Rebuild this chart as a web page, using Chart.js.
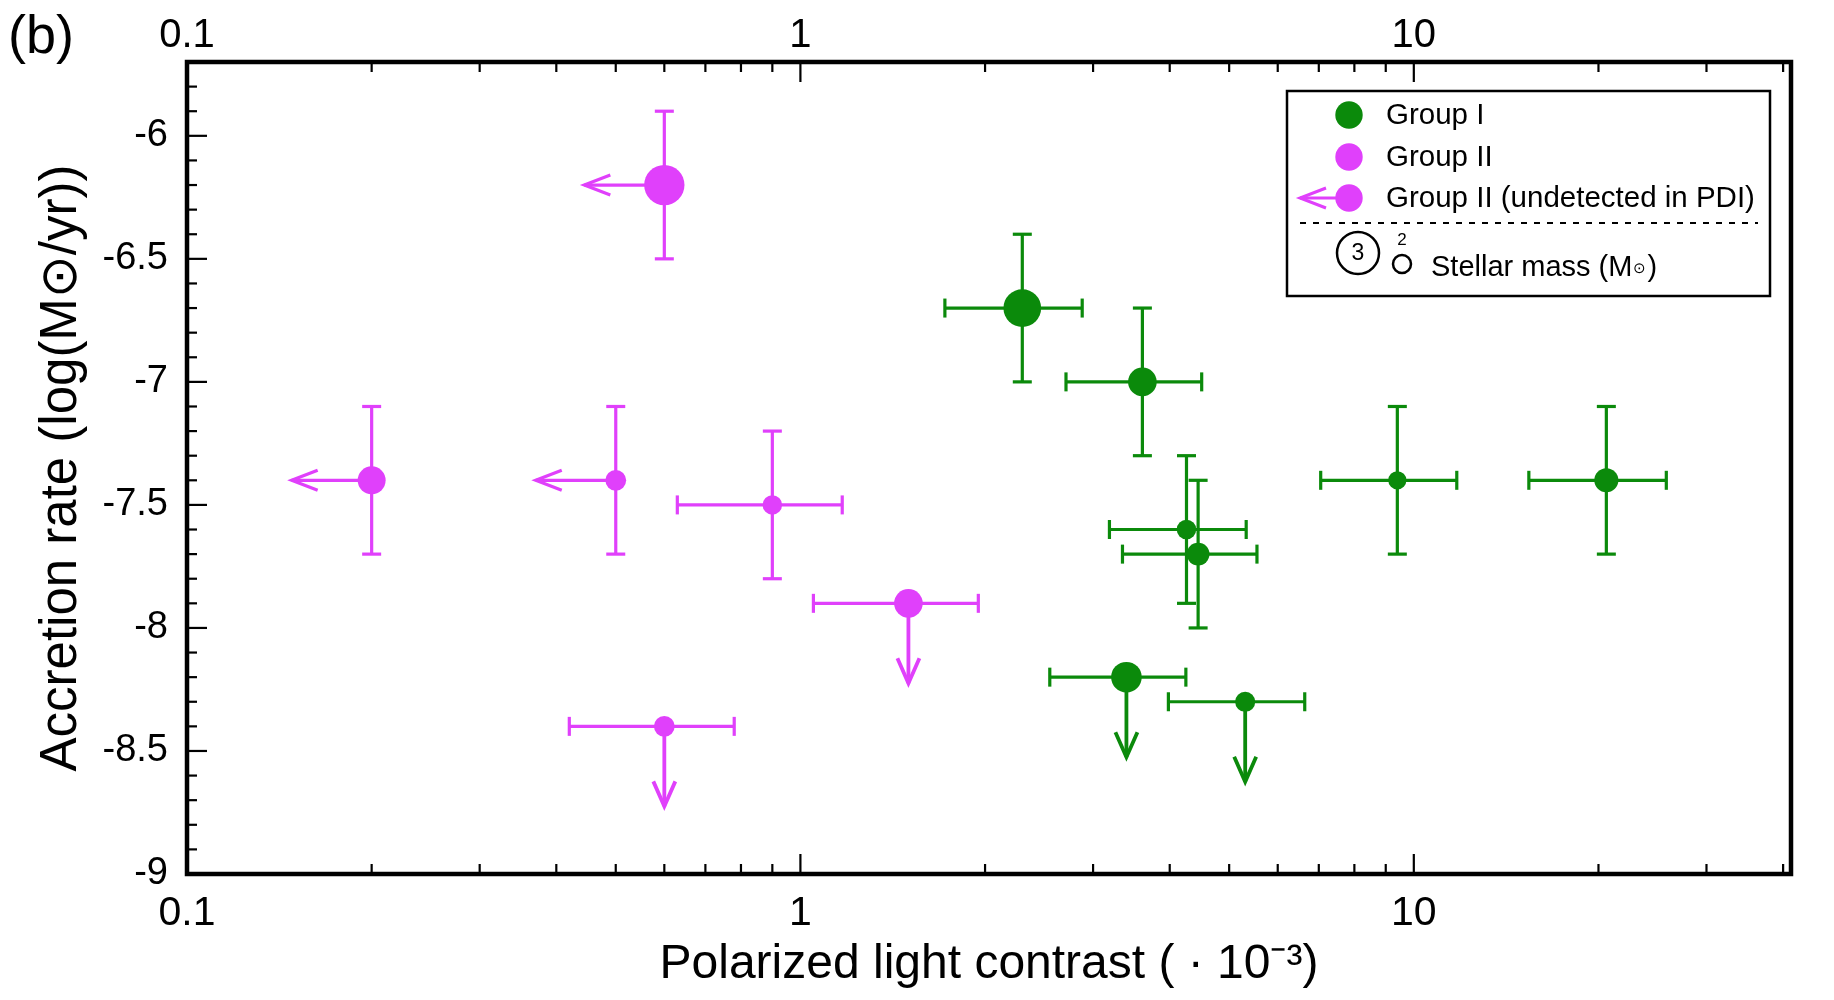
<!DOCTYPE html>
<html>
<head>
<meta charset="utf-8">
<script src="https://cdn.jsdelivr.net/npm/chart.js@4.4.1/dist/chart.umd.min.js"></script>
<style>
  html, body { margin: 0; padding: 0; background: #fff; }
  #wrap { width: 1834px; height: 1000px; position: relative; }
</style>
</head>
<body>
<div id="wrap"><canvas id="chart"></canvas></div>
<script>
// Group I (green) - polarized contrast (x 10^-3), accretion rate (log Msun/yr)
const groupIContrast    = [2.30, 3.61, 4.26, 4.45, 9.40, 20.6, 3.40, 5.31];
const groupIContrastErr = [0.58, 0.90, 1.07, 1.10, 2.35, 5.2, 0.85, 1.33];
const groupIRate        = [-6.7, -7.0, -7.6, -7.7, -7.4, -7.4, -8.2, -8.3];
const groupIRateErr     = [0.3, 0.3, 0.3, 0.3, 0.3, 0.3, 0, 0];
const groupIRateUpper   = [false, false, false, false, false, false, true, true];
const groupIMass        = [2.9, 2.2, 1.5, 1.75, 1.4, 1.85, 2.35, 1.55];

// Group II (magenta), detected in PDI
const groupIIContrast    = [0.9, 1.5, 0.6];
const groupIIContrastErr = [0.27, 0.45, 0.18];
const groupIIRate        = [-7.5, -7.9, -8.4];
const groupIIRateErr     = [0.3, 0, 0];
const groupIIRateUpper   = [false, true, true];
const groupIIMass        = [1.5, 2.2, 1.6];

// Group II undetected in PDI (contrast is an upper limit)
const undetContrast = [0.6, 0.2, 0.5];
const undetRate     = [-6.2, -7.4, -7.4];
const undetRateErr  = [0.3, 0.3, 0.3];
const undetMass     = [3.1, 2.15, 1.6];

// axes
const xMin = 0.1, xMax = 41.2;
const yMin = -9, yMax = -5.7;
const xTickValues = [0.1, 1, 10];
const xTickLabels = ['0.1', '1', '10'];
const yTickValues = [-9, -8.5, -8, -7.5, -7, -6.5, -6];
const yTickLabels = ['-9', '-8.5', '-8', '-7.5', '-7', '-6.5', '-6'];

const GREEN = '#0b8a0b';
const MAGENTA = '#e040fb';
const FONT = "'Liberation Sans', Arial, Helvetica, sans-serif";

const massToRadius = m => 6.5 * m;
const toPoints = (xs, ys) => xs.map((x, i) => ({ x: x, y: ys[i] }));

// minor tick positions on the log axis (2..9 in every decade)
const xMinorTicks = [];
for (let d = 0.1; d < xMax; d *= 10) {
    for (let k = 2; k <= 9; k++) {
        if (k * d <= xMax) xMinorTicks.push(k * d);
    }
}
const yMinorTicks = [];
for (let v = -90; v <= -57; v++) yMinorTicks.push(v / 10);

function line(ctx, x1, y1, x2, y2) {
    ctx.beginPath();
    ctx.moveTo(x1, y1);
    ctx.lineTo(x2, y2);
    ctx.stroke();
}

function arrowLeft(ctx, x, y, len) {
    const tip = x - len;
    line(ctx, x, y, tip, y);
    ctx.beginPath();
    ctx.moveTo(tip + 26, y - 10);
    ctx.lineTo(tip, y);
    ctx.lineTo(tip + 26, y + 10);
    ctx.stroke();
}

function arrowDown(ctx, x, y, len) {
    const tip = y + len;
    line(ctx, x, y, x, tip);
    ctx.beginPath();
    ctx.moveTo(x - 11, tip - 25);
    ctx.lineTo(x, tip);
    ctx.lineTo(x + 11, tip - 25);
    ctx.stroke();
}

function drawErrors(ctx, xs, ys, cx, cxErr, ry, ryErr, ryUpper, color) {
    ctx.save();
    ctx.strokeStyle = color;
    ctx.lineWidth = 3.2;
    ctx.lineCap = 'butt';
    const cap = 9.5;
    cx.forEach((x, i) => {
        const px = xs.getPixelForValue(x);
        const py = ys.getPixelForValue(ry[i]);
        if (cxErr && cxErr[i] > 0) {
            const l = xs.getPixelForValue(x - cxErr[i]);
            const r = xs.getPixelForValue(x + cxErr[i]);
            line(ctx, l, py, r, py);
            line(ctx, l, py - cap, l, py + cap);
            line(ctx, r, py - cap, r, py + cap);
        }
        if (ryErr[i] > 0) {
            const t = ys.getPixelForValue(ry[i] + ryErr[i]);
            const b = ys.getPixelForValue(ry[i] - ryErr[i]);
            line(ctx, px, t, px, b);
            line(ctx, px - cap, t, px + cap, t);
            line(ctx, px - cap, b, px + cap, b);
        }
        if (ryUpper && ryUpper[i]) {
            ctx.lineWidth = 3.8;
            arrowDown(ctx, px, py, 80);
            ctx.lineWidth = 3.2;
        }
    });
    ctx.restore();
}

const decorations = {
    id: 'decorations',
    beforeDatasetsDraw(chart) {
        const ctx = chart.ctx;
        const xs = chart.scales.x, ys = chart.scales.y;
        drawErrors(ctx, xs, ys, groupIContrast, groupIContrastErr, groupIRate, groupIRateErr, groupIRateUpper, GREEN);
        drawErrors(ctx, xs, ys, groupIIContrast, groupIIContrastErr, groupIIRate, groupIIRateErr, groupIIRateUpper, MAGENTA);
        drawErrors(ctx, xs, ys, undetContrast, null, undetRate, undetRateErr, null, MAGENTA);
        // upper limits on contrast
        ctx.save();
        ctx.strokeStyle = MAGENTA;
        ctx.lineWidth = 3.2;
        undetContrast.forEach((x, i) => {
            arrowLeft(ctx, xs.getPixelForValue(x), ys.getPixelForValue(undetRate[i]), 80);
        });
        ctx.restore();
    },
    afterDraw(chart) {
        const ctx = chart.ctx;
        const a = chart.chartArea;
        const xs = chart.scales.x, ys = chart.scales.y;
        ctx.save();
        ctx.strokeStyle = '#000';

        // inward tick marks (bottom, top, left)
        ctx.lineWidth = 2.2;
        xTickValues.forEach(v => {
            const px = xs.getPixelForValue(v);
            line(ctx, px, a.bottom, px, a.bottom - 20);
            line(ctx, px, a.top, px, a.top + 20);
        });
        xMinorTicks.forEach(v => {
            const px = xs.getPixelForValue(v);
            line(ctx, px, a.bottom, px, a.bottom - 10);
            line(ctx, px, a.top, px, a.top + 10);
        });
        yMinorTicks.forEach(v => {
            const py = ys.getPixelForValue(v);
            const major = yTickValues.some(t => Math.abs(t - v) < 1e-6);
            line(ctx, a.left, py, a.left + (major ? 20 : 10), py);
        });

        // frame
        ctx.lineWidth = 4.5;
        ctx.strokeRect(a.left, a.top, a.right - a.left, a.bottom - a.top);

        // panel label
        ctx.fillStyle = '#000';
        ctx.font = '54px ' + FONT;
        ctx.textBaseline = 'alphabetic';
        ctx.textAlign = 'left';
        ctx.fillText('(b)', 8, 53);

        // legend
        ctx.lineWidth = 2.5;
        ctx.strokeRect(1287, 91, 483, 205);
        ctx.font = '29.5px ' + FONT;
        ctx.textBaseline = 'middle';
        const rows = [
            { y: 115, color: GREEN, text: 'Group I', arrow: false },
            { y: 157, color: MAGENTA, text: 'Group II', arrow: false },
            { y: 198, color: MAGENTA, text: 'Group II (undetected in PDI)', arrow: true }
        ];
        rows.forEach(r => {
            if (r.arrow) {
                ctx.save();
                ctx.strokeStyle = r.color;
                ctx.lineWidth = 3;
                arrowLeft(ctx, 1349, r.y, 49);
                ctx.restore();
            }
            ctx.fillStyle = r.color;
            ctx.beginPath();
            ctx.arc(1349, r.y, 13.7, 0, Math.PI * 2);
            ctx.fill();
            ctx.fillStyle = '#000';
            ctx.fillText(r.text, 1386, r.y + 1);
        });
        ctx.save();
        ctx.setLineDash([6, 7]);
        ctx.lineWidth = 2.2;
        line(ctx, 1300, 223, 1758, 223);
        ctx.restore();

        ctx.lineWidth = 2.5;
        ctx.beginPath();
        ctx.arc(1358, 253, 21, 0, Math.PI * 2);
        ctx.stroke();
        ctx.beginPath();
        ctx.arc(1402, 264, 9, 0, Math.PI * 2);
        ctx.stroke();
        ctx.textAlign = 'center';
        ctx.font = '23px ' + FONT;
        ctx.fillText('3', 1358, 254);
        ctx.font = '17px ' + FONT;
        ctx.fillText('2', 1402, 240);
        ctx.textAlign = 'left';
        ctx.textBaseline = 'alphabetic';
        ctx.font = '29px ' + FONT;
        let tx = 1431;
        const t1 = 'Stellar mass (M';
        ctx.fillText(t1, tx, 276);
        tx += ctx.measureText(t1).width + 1;
        ctx.font = '15px ' + FONT;
        ctx.fillText('\u2299', tx, 273);
        tx += ctx.measureText('\u2299').width + 1;
        ctx.font = '29px ' + FONT;
        ctx.fillText(')', tx, 276);

        ctx.restore();
    }
};

new Chart(document.getElementById('chart'), {
    type: 'scatter',
    data: {
        datasets: [
            {
                label: 'Group I',
                data: toPoints(groupIContrast, groupIRate),
                backgroundColor: GREEN,
                borderWidth: 0,
                pointRadius: groupIMass.map(massToRadius)
            },
            {
                label: 'Group II',
                data: toPoints(groupIIContrast, groupIIRate),
                backgroundColor: MAGENTA,
                borderWidth: 0,
                pointRadius: groupIIMass.map(massToRadius)
            },
            {
                label: 'Group II (undetected in PDI)',
                data: toPoints(undetContrast, undetRate),
                backgroundColor: MAGENTA,
                borderWidth: 0,
                pointRadius: undetMass.map(massToRadius)
            }
        ]
    },
    options: {
        responsive: true,
        maintainAspectRatio: false,
        animation: false,
        devicePixelRatio: 1,
        layout: { padding: { left: 0, right: 43, top: 0, bottom: 0 } },
        plugins: {
            legend: { display: false },
            tooltip: { enabled: false }
        },
        scales: {
            x: {
                type: 'logarithmic',
                position: 'bottom',
                min: xMin,
                max: xMax,
                grid: { display: false, drawTicks: false },
                border: { display: false },
                afterBuildTicks: s => { s.ticks = xTickValues.map(v => ({ value: v })); },
                afterFit: s => { s.height = 126; },
                ticks: {
                    autoSkip: false,
                    maxRotation: 0,
                    padding: 15,
                    color: '#000',
                    font: { family: FONT, size: 41 },
                    callback: (v, i) => xTickLabels[i]
                },
                title: {
                    display: true,
                    text: 'Polarized light contrast ( \u00b7 10\u207b\u00b3)',
                    color: '#000',
                    font: { family: FONT, size: 48 },
                    padding: { top: 0, bottom: 6 }
                }
            },
            x2: {
                type: 'logarithmic',
                position: 'top',
                min: xMin,
                max: xMax,
                grid: { display: false, drawTicks: false },
                border: { display: false },
                afterBuildTicks: s => { s.ticks = xTickValues.map(v => ({ value: v })); },
                afterFit: s => { s.height = 62; },
                ticks: {
                    autoSkip: false,
                    maxRotation: 0,
                    padding: 2,
                    color: '#000',
                    font: { family: FONT, size: 40 },
                    callback: (v, i) => xTickLabels[i]
                }
            },
            y: {
                type: 'linear',
                position: 'left',
                min: yMin,
                max: yMax,
                grid: { display: false, drawTicks: false },
                border: { display: false },
                afterBuildTicks: s => { s.ticks = yTickValues.map(v => ({ value: v })); },
                afterFit: s => { s.width = 187; },
                ticks: {
                    padding: 19,
                    color: '#000',
                    font: { family: FONT, size: 38 },
                    callback: (v, i) => yTickLabels[i]
                },
                title: {
                    display: true,
                    text: 'Accretion rate (log(M\u2299/yr))',
                    color: '#000',
                    font: { family: FONT, size: 51 },
                    padding: { top: 31, bottom: 0 }
                }
            }
        }
    },
    plugins: [decorations]
});
</script>
</body>
</html>
